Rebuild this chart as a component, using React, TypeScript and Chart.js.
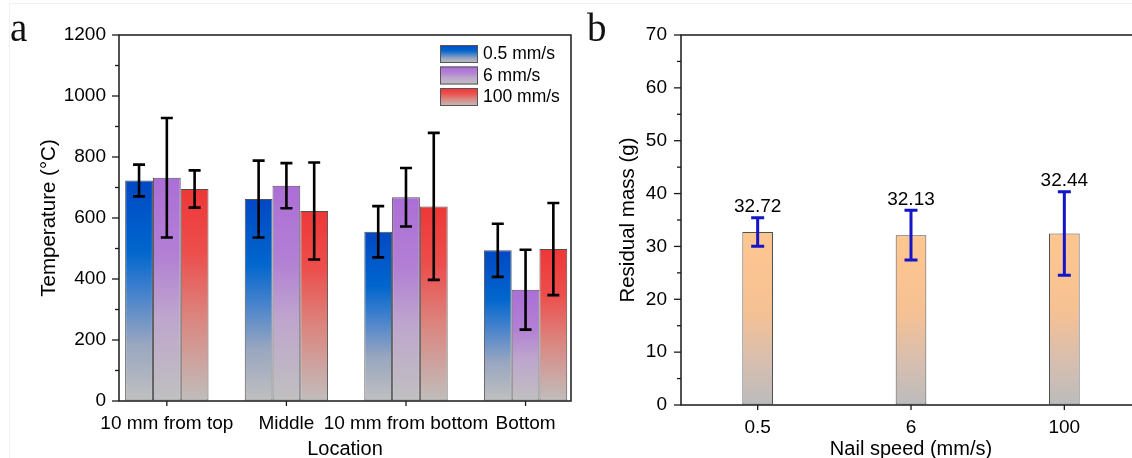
import React, { useEffect, useRef } from "react";
import { Chart, registerables } from "chart.js";

Chart.register(...registerables);

// ---------- data ----------
const locations = ["10 mm from top", "Middle", "10 mm from bottom", "Bottom"];
const seriesLabels = ["0.5 mm/s", "6 mm/s", "100 mm/s"];
const temp05 = [723, 662, 555, 494];
const err05 = [52, 126, 84, 87];
const temp6 = [732, 706, 668, 365];
const err6 = [196, 74, 96, 131];
const temp100 = [695, 623, 638, 498];
const err100 = [61, 159, 241, 151];

const nailSpeeds = ["0.5", "6", "100"];
const residualMass = [32.72, 32.13, 32.44];
const residualErr = [2.7, 4.7, 7.9];

// ---------- styles ----------
const FONT = "'Liberation Sans', Arial, Helvetica, sans-serif";
type Stop = [number, string];
const blueStops: Stop[] = [
  [0, "rgb(0,72,196)"],
  [0.32, "rgb(0,102,205)"],
  [0.5, "rgb(65,128,205)"],
  [0.74, "rgb(152,166,192)"],
  [1, "rgb(192,192,192)"],
];
const purpleStops: Stop[] = [
  [0, "rgb(172,110,215)"],
  [0.35, "rgb(178,128,212)"],
  [0.62, "rgb(190,165,205)"],
  [1, "rgb(192,192,192)"],
];
const redStops: Stop[] = [
  [0, "rgb(238,55,55)"],
  [0.3, "rgb(236,78,76)"],
  [0.6, "rgb(220,132,126)"],
  [1, "rgb(192,190,188)"],
];
const orangeStops: Stop[] = [
  [0, "rgb(254,198,144)"],
  [0.45, "rgb(246,193,147)"],
  [0.75, "rgb(215,190,176)"],
  [1, "rgb(188,188,188)"],
];

function barGradient(stops: Stop[]) {
  return (c: any) => {
    const chart = c.chart;
    if (!chart.chartArea || c.type !== "data" || !c.parsed) return stops[0][1];
    const y = chart.scales.y;
    const top = y.getPixelForValue(c.parsed.y);
    const base = y.getPixelForValue(0);
    const g = chart.ctx.createLinearGradient(0, top, 0, base);
    stops.forEach(([o, col]) => g.addColorStop(o, col));
    return g;
  };
}

const decorPlugin = {
  id: "decor",
  afterDatasetsDraw(chart: any, _args: any, opts: any) {
    const ctx = chart.ctx;
    const { left, right, top, bottom } = chart.chartArea;
    const yS = chart.scales.y;
    const xS = chart.scales.x;
    ctx.save();

    // error bars
    chart.data.datasets.forEach((ds: any, di: number) => {
      const meta = chart.getDatasetMeta(di);
      const errs = ds.errorBars || [];
      meta.data.forEach((el: any, i: number) => {
        const raw = ds.data[i];
        const v = typeof raw === "number" ? raw : raw.y;
        const e = errs[i] || 0;
        const yt = yS.getPixelForValue(v + e);
        const yb = yS.getPixelForValue(v - e);
        ctx.strokeStyle = opts.errorColor;
        ctx.lineWidth = opts.errorWidth;
        ctx.lineCap = "butt";
        ctx.beginPath();
        ctx.moveTo(el.x, yt);
        ctx.lineTo(el.x, yb);
        ctx.moveTo(el.x - opts.capHalf, yt);
        ctx.lineTo(el.x + opts.capHalf, yt);
        ctx.moveTo(el.x - opts.capHalf, yb);
        ctx.lineTo(el.x + opts.capHalf, yb);
        ctx.stroke();
        if (opts.valueLabels) {
          ctx.fillStyle = "#000";
          ctx.font = `19px ${FONT}`;
          ctx.textAlign = "center";
          ctx.textBaseline = "middle";
          ctx.fillText(v.toFixed(2), el.x, yt - 11);
        }
      });
    });

    // frame
    ctx.strokeStyle = "#1a1a1a";
    ctx.lineWidth = 1.5;
    ctx.beginPath();
    ctx.moveTo(left, top);
    ctx.lineTo(right, top);
    ctx.lineTo(right, bottom);
    ctx.lineTo(left, bottom);
    ctx.closePath();
    ctx.stroke();

    // y ticks (major + minor)
    ctx.lineWidth = 1.3;
    const minor = opts.minorStep;
    for (let v = yS.min; v <= yS.max + 1e-9; v += minor) {
      const isMajor = Math.abs(v / opts.majorStep - Math.round(v / opts.majorStep)) < 1e-6;
      const py = yS.getPixelForValue(v);
      ctx.beginPath();
      ctx.moveTo(left - (isMajor ? 7 : 4), py);
      ctx.lineTo(left, py);
      ctx.stroke();
    }
    // x ticks
    xS.ticks.forEach((_t: any, i: number) => {
      const px = xS.getPixelForTick(i);
      ctx.beginPath();
      ctx.moveTo(px, bottom);
      ctx.lineTo(px, bottom + 5);
      ctx.stroke();
    });

    // legend
    if (opts.legend) {
      const L = opts.legend;
      chart.data.datasets.forEach((ds: any, di: number) => {
        const sy = L.y + di * L.dy;
        const g = ctx.createLinearGradient(0, sy, 0, sy + L.h);
        ds.stops.forEach(([o, col]: Stop) => g.addColorStop(o, col));
        ctx.fillStyle = g;
        ctx.fillRect(L.x, sy, L.w, L.h);
        ctx.strokeStyle = "#555";
        ctx.lineWidth = 1;
        ctx.strokeRect(L.x + 0.5, sy + 0.5, L.w - 1, L.h - 1);
        ctx.fillStyle = "#000";
        ctx.font = `17.5px ${FONT}`;
        ctx.textAlign = "left";
        ctx.textBaseline = "middle";
        ctx.fillText(ds.label, L.x + L.w + 5, sy + L.h / 2 + 0.5);
      });
    }
    ctx.restore();
  },
};

const gridOpts = (tl: number) => ({
  display: true,
  drawOnChartArea: false,
  drawTicks: true,
  tickLength: tl,
  color: "rgba(0,0,0,0)",
  tickColor: "rgba(0,0,0,0)",
});

const plainNumber = (v: any) => String(v);

export default function App() {
  const refA = useRef<HTMLCanvasElement>(null);
  const refB = useRef<HTMLCanvasElement>(null);

  useEffect(() => {
    const mk = (vals: number[], errs: number[], label: string, stops: Stop[]) => ({
      label,
      data: vals.map((v, i) => ({ x: i + 1, y: v })),
      errorBars: errs,
      stops,
      backgroundColor: barGradient(stops),
      borderColor: "#505050",
      borderWidth: 1,
      borderSkipped: false,
      categoryPercentage: 0.697,
      barPercentage: 1,
    });

    const chartA = new Chart(refA.current!, {
      type: "bar",
      data: {
        datasets: [
          mk(temp05, err05, seriesLabels[0], blueStops),
          mk(temp6, err6, seriesLabels[1], purpleStops),
          mk(temp100, err100, seriesLabels[2], redStops),
        ] as any,
      },
      options: {
        responsive: false,
        animation: false,
        layout: { padding: { top: 35, right: 9, left: 0, bottom: 0 } },
        scales: {
          x: {
            type: "linear",
            min: 0.6,
            max: 4.38,
            bounds: "data",
            offset: false,
            afterBuildTicks: (s: any) => {
              s.ticks = locations.map((_, i) => ({ value: i + 1 }));
            },
            ticks: {
              autoSkip: false,
              maxRotation: 0,
              minRotation: 0,
              callback: (v: any) => locations[Number(v) - 1] ?? "",
              font: { family: FONT, size: 19 },
              color: "#000",
              padding: 6.5,
            },
            grid: gridOpts(5),
            border: { display: false },
            title: {
              display: true,
              text: "Location",
              color: "#000",
              font: { family: FONT, size: 20, lineHeight: 0.9 },
              padding: { top: 0, bottom: 0 },
            },
            afterFit: (s: any) => {
              s.height = 57;
            },
          } as any,
          y: {
            min: 0,
            max: 1200,
            ticks: {
              stepSize: 200,
              callback: plainNumber,
              font: { family: FONT, size: 19 },
              color: "#000",
              padding: 6,
            },
            grid: gridOpts(7),
            border: { display: false },
            title: {
              display: true,
              text: "Temperature (°C)",
              color: "#000",
              font: { family: FONT, size: 20.5, lineHeight: 1 },
              padding: { top: 38.75, bottom: 0 },
            },
            afterFit: (s: any) => {
              s.width = 119;
            },
          } as any,
        },
        plugins: {
          legend: { display: false },
          tooltip: { enabled: false },
          decor: {
            errorColor: "#000",
            errorWidth: 2.6,
            capHalf: 6,
            majorStep: 200,
            minorStep: 100,
            legend: { x: 440, y: 45, w: 38, h: 18, dy: 21.5 },
          },
        } as any,
      },
      plugins: [decorPlugin],
    });

    const chartB = new Chart(refB.current!, {
      type: "bar",
      data: {
        labels: nailSpeeds,
        datasets: [
          {
            label: "Residual mass",
            data: residualMass,
            errorBars: residualErr,
            backgroundColor: barGradient(orangeStops),
            borderColor: "#505050",
            borderWidth: 1,
            borderSkipped: false,
            categoryPercentage: 1,
            barPercentage: 0.2,
          } as any,
        ],
      },
      options: {
        responsive: false,
        animation: false,
        layout: { padding: { top: 35, right: 9, left: 0, bottom: 0 } },
        scales: {
          x: {
            ticks: {
              font: { family: FONT, size: 19 },
              color: "#000",
              padding: 6.5,
              maxRotation: 0,
            },
            grid: gridOpts(5),
            border: { display: false },
            title: {
              display: true,
              text: "Nail speed (mm/s)",
              color: "#000",
              font: { family: FONT, size: 20, lineHeight: 0.9 },
              padding: { top: 0, bottom: 0 },
            },
            afterFit: (s: any) => {
              s.height = 53;
            },
          } as any,
          y: {
            min: 0,
            max: 70,
            ticks: {
              stepSize: 10,
              callback: plainNumber,
              font: { family: FONT, size: 19 },
              color: "#000",
              padding: 7,
            },
            grid: gridOpts(7),
            border: { display: false },
            title: {
              display: true,
              text: "Residual mass (g)",
              color: "#000",
              font: { family: FONT, size: 20.5, lineHeight: 1 },
              padding: { top: 37.75, bottom: 0 },
            },
            afterFit: (s: any) => {
              s.width = 101;
            },
          } as any,
        },
        plugins: {
          legend: { display: false },
          tooltip: { enabled: false },
          decor: {
            errorColor: "#1414c8",
            errorWidth: 3,
            capHalf: 6.5,
            majorStep: 10,
            minorStep: 5,
            valueLabels: true,
          },
        } as any,
      },
      plugins: [decorPlugin],
    });

    return () => {
      chartA.destroy();
      chartB.destroy();
    };
  }, []);

  const letter: React.CSSProperties = {
    position: "absolute",
    fontFamily: "'Liberation Serif', 'Times New Roman', serif",
    fontSize: 39,
    lineHeight: "39px",
    color: "#111",
    margin: 0,
  };

  return (
    <div
      style={{
        position: "fixed",
        left: 0,
        top: 0,
        width: 1132,
        height: 458,
        overflow: "hidden",
        background: "#fff",
      }}
    >
      <div
        style={{
          position: "absolute",
          left: 9,
          top: 3,
          width: 1200,
          height: 500,
          borderTop: "1px solid #eef2f2",
          borderLeft: "1px solid #eef2f2",
        }}
      />
      <canvas
        ref={refA}
        width={580}
        height={458}
        style={{ position: "absolute", left: 0, top: 0, display: "block" }}
      />
      <canvas
        ref={refB}
        width={570}
        height={458}
        style={{ position: "absolute", left: 580, top: 0, display: "block" }}
      />
      <div style={{ ...letter, left: 10, top: 8 }}>a</div>
      <div style={{ ...letter, left: 587, top: 8 }}>b</div>
    </div>
  );
}
